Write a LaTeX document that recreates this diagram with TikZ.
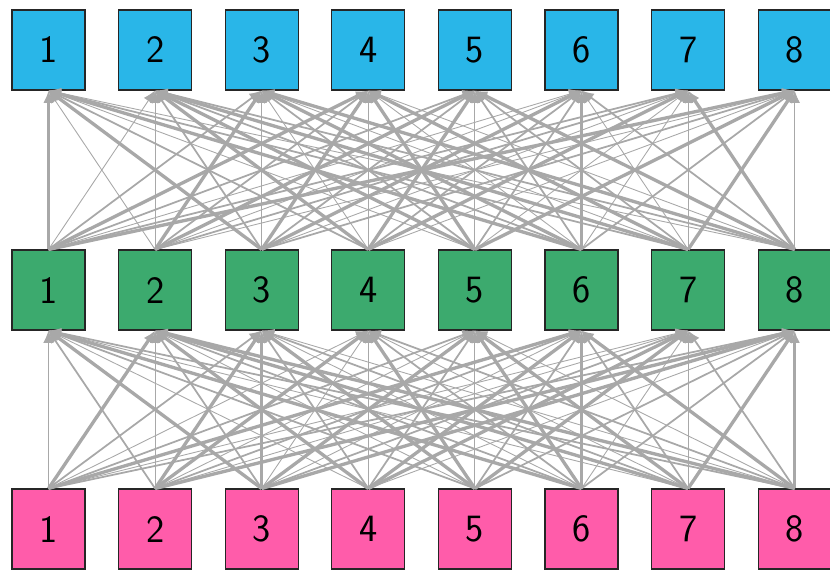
\documentclass[tikz,border=0pt]{standalone}
\usepackage{tikz}
\usetikzlibrary{arrows.meta}
\definecolor{topcyan}{RGB}{41,182,232}
\definecolor{midgreen}{RGB}{60,170,110}
\definecolor{botpink}{RGB}{255,92,170}
\definecolor{edgegray}{RGB}{168,168,168}

\begin{document}
\begin{tikzpicture}[
    x=0.02cm, y=-0.02cm,
    unit/.style={rectangle, draw=black!85, line width=0.6pt, minimum width=1.46cm, minimum height=1.6cm, inner sep=0pt, font=\sffamily\fontsize{22}{22}\selectfont},
    link/.style={draw=edgegray, -{Latex[length=7pt,width=6pt]}},
    w1/.style={line width=0.5pt},
    w2/.style={line width=1pt},
    w3/.style={line width=1.9pt}
]
    \useasboundingbox (0,0) rectangle (830,569);
    % three layers of units
    \foreach \k in {1,...,8} {
        \coordinate (pt\k) at ({48.5+106.6*(\k-1)},50);
        \coordinate (pm\k) at ({48.5+106.6*(\k-1)},290);
        \coordinate (pb\k) at ({48.5+106.6*(\k-1)},529);
        \node[unit, fill=topcyan] (t\k) at (pt\k) {\k};
        \node[unit, fill=midgreen] (m\k) at (pm\k) {\k};
        \node[unit, fill=botpink] (b\k) at (pb\k) {\k};
    }
    % bottom -> middle
    \foreach \i/\ws in {1/{1,3,2,1,2,3,1,2}, 2/{2,1,3,3,1,2,1,3}, 3/{3,2,3,1,3,1,2,3}, 4/{1,3,2,1,2,3,3,1},
                        5/{2,1,3,3,1,2,3,2}, 6/{3,2,1,2,3,3,1,2}, 7/{1,3,2,1,3,2,1,3}, 8/{2,3,1,2,1,3,2,3}} {
        \foreach \w [count=\j] in \ws {
            \draw[link, w\w] (b\i.north) -- (m\j.south);
        }
    }
    % middle -> top
    \foreach \i/\ws in {1/{3,1,2,3,2,1,2,3}, 2/{1,1,3,2,3,1,2,1}, 3/{3,2,1,3,2,3,1,2}, 4/{2,3,1,1,3,2,3,1},
                        5/{1,3,2,3,1,2,1,3}, 6/{3,2,3,1,2,3,1,2}, 7/{2,3,1,3,2,1,1,3}, 8/{1,2,3,1,3,2,3,1}} {
        \foreach \w [count=\j] in \ws {
            \draw[link, w\w] (m\i.north) -- (t\j.south);
        }
    }
\end{tikzpicture}
\end{document}
